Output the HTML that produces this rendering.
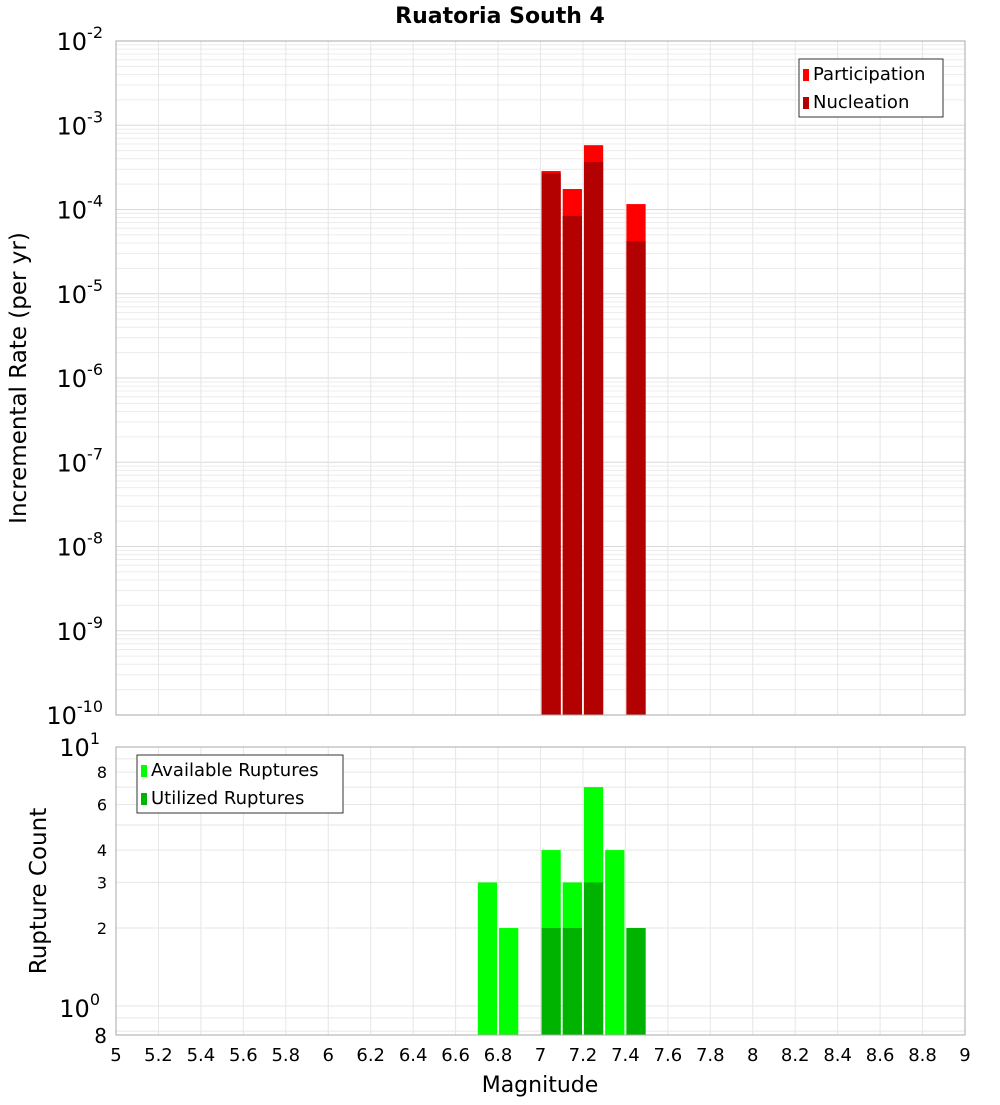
<!DOCTYPE html>
<html><head><meta charset="utf-8"><style>
body{margin:0;background:#fff;font-family:"Liberation Sans","DejaVu Sans",sans-serif;}
svg text{font-family:"DejaVu Sans","Liberation Sans",sans-serif;}
</style></head><body>
<svg id="c" width="1000" height="1100" xmlns="http://www.w3.org/2000/svg"></svg>
<script>
const magBins=[7.05,7.15,7.25,7.45];
const participation=[2.86e-4,1.75e-4,5.8e-4,1.16e-4];
const nucleation=[2.7e-4,8.4e-5,3.66e-4,4.2e-5];
const countBins=[6.75,6.85,7.05,7.15,7.25,7.35,7.45];
const available=[3,2,4,3,7,4,2];
const utilized=[0,0,2,2,3,0,2];
const xTicks=[5,5.2,5.4,5.6,5.8,6,6.2,6.4,6.6,6.8,7,7.2,7.4,7.6,7.8,8,8.2,8.4,8.6,8.8,9];
const rateExps=[-2,-3,-4,-5,-6,-7,-8,-9,-10];
const countTicks=[2,3,4,6,8];

const svg=document.getElementById('c');const NS='http://www.w3.org/2000/svg';
function mk(t,a,p,txt){const e=document.createElementNS(NS,t);for(const k in a)e.setAttribute(k,a[k]);if(txt!==undefined)e.textContent=txt;(p||svg).appendChild(e);return e;}
const L=116,R=965;
const x=v=>L+(v-5)/4*(R-L);
const T1=41,B1=715;const y1=v=>T1+(-2-Math.log10(v))/8*(B1-T1);
const T2=747,B2=1035;const y2=v=>T2+(1-Math.log10(v))*259;

const t=mk('text',{x:500,y:23,'text-anchor':'middle','font-size':22,'font-weight':'bold'},svg,'Ruatoria South 4');


const g1=mk('g',{});
for(let e=-10;e<-2;e++)for(let m=1;m<10;m++){const yy=y1(m*Math.pow(10,e));mk('line',{x1:L,x2:R,y1:yy,y2:yy,stroke:m==1?'#d8d8d8':'#ececec','stroke-width':1},g1);}
xTicks.forEach(v=>{mk('line',{x1:x(v),x2:x(v),y1:T1,y2:B1,stroke:'#e6e6e6'},g1);mk('line',{x1:x(v),x2:x(v),y1:T2,y2:B2,stroke:'#e6e6e6'},g1);});
const g2=mk('g',{});
for(let v=1;v<=10;v++){const yy=y2(v);mk('line',{x1:L,x2:R,y1:yy,y2:yy,stroke:'#e6e6e6'},g2);}
[0.8,0.9].forEach(v=>{const yy=y2(v);mk('line',{x1:L,x2:R,y1:yy,y2:yy,stroke:'#e6e6e6'},g2);});

const bw=(x(0.1)-x(0))-2;
magBins.forEach((m,i)=>{
 let r=mk('rect',{x:x(m)-bw/2,y:y1(participation[i]),width:bw,height:B1-y1(participation[i]),fill:'#ff0000'});
 
 r=mk('rect',{x:x(m)-bw/2,y:y1(nucleation[i]),width:bw,height:B1-y1(nucleation[i]),fill:'#b30000'});
 
});
countBins.forEach((m,i)=>{
 let r=mk('rect',{x:x(m)-bw/2,y:y2(available[i]),width:bw,height:B2-y2(available[i]),fill:'#00ff00'});
 
 if(utilized[i]>0){r=mk('rect',{x:x(m)-bw/2,y:y2(utilized[i]),width:bw,height:B2-y2(utilized[i]),fill:'#00b300'});
 }
});
mk('rect',{x:L,y:T1,width:R-L,height:B1-T1,fill:'none',stroke:'#aaa'});
mk('rect',{x:L,y:T2,width:R-L,height:B2-T2,fill:'none',stroke:'#aaa'});

rateExps.forEach(e=>{const yy=y1(Math.pow(10,e));const tx=mk('text',{x:103,y:yy+9,'text-anchor':'end','font-size':24});
 
 tx.appendChild(document.createTextNode('10'));mk('tspan',{dy:-12,'font-size':16},tx,String(e));});
countTicks.forEach(v=>{const tx=mk('text',{x:107,y:y2(v)+6,'text-anchor':'end','font-size':16},svg,String(v));});
[[1,747],[1,1008]].forEach((a,i)=>{const tx=mk('text',{x:100,y:a[1]+9,'text-anchor':'end','font-size':24});tx.appendChild(document.createTextNode('10'));mk('tspan',{dy:-12,'font-size':16},tx,i==0?'1':'0');});
let t8=mk('text',{x:107,y:1043,'text-anchor':'end','font-size':20},svg,'8');
xTicks.forEach(v=>{const tx=mk('text',{x:x(v),y:1061,'text-anchor':'middle','font-size':18},svg,String(v));});
let a=mk('text',{x:540,y:1092,'text-anchor':'middle','font-size':22},svg,'Magnitude');
a=mk('text',{x:0,y:0,'text-anchor':'middle','font-size':23,transform:'translate(26,378) rotate(-90)'},svg,'Incremental Rate (per yr)');
a=mk('text',{x:0,y:0,'text-anchor':'middle','font-size':23,transform:'translate(46,891) rotate(-90)'},svg,'Rupture Count');

function legend(x0,y0,w,items,name){const g=mk('g',{});
 mk('rect',{x:x0,y:y0,width:w,height:58,fill:'#fff',stroke:'#333'},g);
 items.forEach((it,i)=>{mk('rect',{x:x0+4,y:y0+10+i*28,width:6,height:12,fill:it[1]},g);mk('text',{x:x0+14,y:y0+21+i*28,'font-size':18},g,it[0]);});}
legend(799,59,144,[['Participation','#ff0000'],['Nucleation','#b30000']],'rate-legend');
legend(137,755,206,[['Available Ruptures','#00ff00'],['Utilized Ruptures','#00b300']],'count-legend');
</script>
</body></html>
